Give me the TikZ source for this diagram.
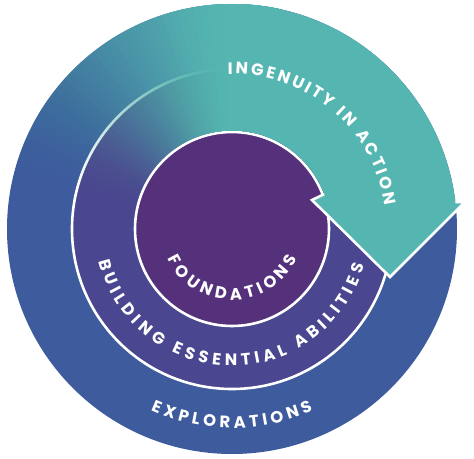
\documentclass[tikz,border=0pt]{standalone}
\usepackage{fontspec}
\newfontfamily\ringfont{Poppins}
\usetikzlibrary{calc,decorations.text}
\definecolor{outerblue}{HTML}{3D5B9D}
\definecolor{midviolet}{HTML}{4A468F}
\definecolor{corepurple}{HTML}{54317A}
\definecolor{tealarrow}{HTML}{55B6B1}
\newcommand\ringtype{\ringfont\bfseries\fontsize{16.5}{18}\selectfont}

\begin{document}
\begin{tikzpicture}[x=1pt,y=1pt,
    ringline/.style={draw=white,line width=2.6pt},
    ringtext/.style={decorate,decoration={text along path,text align={fit to path},text color=white}}]
    \useasboundingbox (-232,-229) rectangle (242,229);
    \fill[outerblue] (0,0) circle[radius=225];
    \fill[midviolet] (0,0) circle[radius=160];
    \draw[ringline] (0,0) circle[radius=160];
    \fill[corepurple] (0,0) circle[radius=97];
    \draw[ringline] (0,0) circle[radius=97];
    \foreach \k in {1,...,40}{
      \pgfmathsetmacro\fadefrom{170-2*(\k-1)}
      \pgfmathsetmacro\tnew{\k/40}
      \pgfmathsetmacro\told{(\k-1)/40}
      \pgfmathsetmacro\fadeop{((3*\tnew^2-2*\tnew^3)-(3*\told^2-2*\told^3))/(1-(3*\told^2-2*\told^3))}
      \fill[tealarrow,opacity=\fadeop] (\fadefrom:225) arc[start angle=\fadefrom,end angle=78,radius=225] -- (78:98.5) arc[start angle=78,end angle=\fadefrom,radius=98.5] -- cycle;
    }
    \coordinate (nick) at (20.7:98.5);
    \coordinate (notch) at (80,29);
    \coordinate (tip) at (158,-48);
    \coordinate (barb) at (233,27);
    \coordinate (rim) at (6.9:225);
    \fill[tealarrow] (80:225) arc[start angle=80,end angle=6.9,radius=225] -- (barb) -- (tip) -- (notch) -- (nick) arc[start angle=20.7,end angle=80,radius=98.5] -- cycle;
    \draw[ringline] (nick) -- (notch) -- (tip) -- (barb) -- (rim);
    \path[ringtext,decoration={text={|\ringtype|INGENUITY IN ACTION}}] (91.5:155) arc[start angle=91.5,end angle=8.7,radius=155];
    \path[ringtext,decoration={text={|\ringtype|BUILDING ESSENTIAL ABILITIES}}] (193.6:137) arc[start angle=193.6,end angle=344.7,radius=137];
    \path[ringtext,decoration={text={|\ringtype|FOUNDATIONS}}] (204.7:71) arc[start angle=204.7,end angle=335.9,radius=71];
    \path[ringtext,decoration={text={|\ringtype|EXPLORATIONS}}] (245.9:199) arc[start angle=245.9,end angle=294,radius=199];
\end{tikzpicture}
\end{document}
